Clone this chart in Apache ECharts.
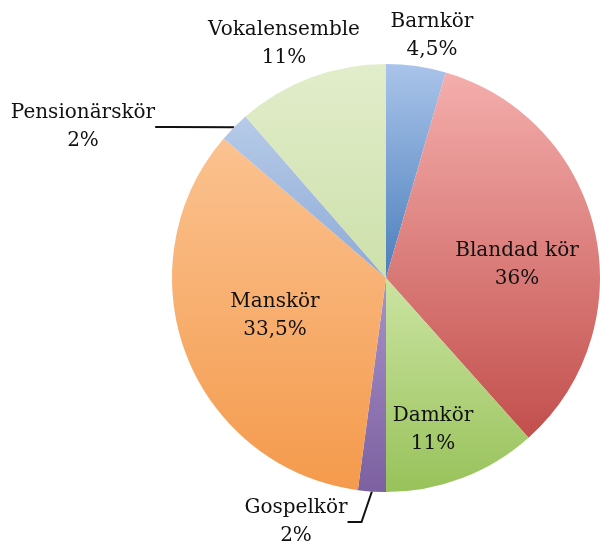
<!DOCTYPE html>
<html>
<head>
<meta charset="utf-8">
<script src="https://cdn.jsdelivr.net/npm/echarts@6/dist/echarts.min.js"></script>
<style>
  html, body { margin: 0; padding: 0; background: #fff; }
  #chart { width: 600px; height: 545px; }
</style>
</head>
<body>
<div id="chart"></div>
<script>
// slices, clockwise from 12 o'clock
var names = ['Barnkör', 'Blandad kör', 'Damkör', 'Gospelkör', 'Manskör', 'Pensionärskör', 'Vokalensemble'];
var values = [4.5, 33.9, 11.6, 2.1, 34.2, 2.3, 11.4];
// percentages as printed on the chart
var percentLabels = ['4,5%', '36%', '11%', '2%', '33,5%', '2%', '11%'];

var topColors = ['#aac4ea', '#f4aeac', '#cbe4a2', '#a893c9', '#fbc290', '#b6cbe8', '#e2edcb'];
var bottomColors = ['#4a7ebb', '#c24f4c', '#98c25a', '#7c60a0', '#f49a4c', '#8eaad6', '#cde0aa'];

// label centres (px) and whether a leader line is drawn
var labelSpots = [
  { x: 432, y: 36, line: false },
  { x: 517, y: 265, line: false },
  { x: 433, y: 430, line: false },
  { x: 296, y: 522, line: true },
  { x: 275, y: 316, line: false },
  { x: 83, y: 127, line: true },
  { x: 284, y: 44, line: false }
];

var data = names.map(function (n, i) {
  return {
    name: n,
    value: values[i],
    itemStyle: {
      color: new echarts.graphic.LinearGradient(0, 0, 0, 1, [
        { offset: 0, color: topColors[i] },
        { offset: 1, color: bottomColors[i] }
      ])
    },
    labelLine: { show: labelSpots[i].line }
  };
});

var myChart = echarts.init(document.getElementById('chart'));
myChart.setOption({
  animation: false,
  series: [
    {
      type: 'pie',
      center: [386, 278],
      radius: 214,
      startAngle: 90,
      clockwise: true,
      avoidLabelOverlap: false,
      label: {
        show: true,
        position: 'outside',
        fontFamily: 'DejaVu Serif',
        fontSize: 20,
        lineHeight: 28,
        color: '#111',
        align: 'center',
        formatter: function (p) {
          return p.name + '\n' + percentLabels[p.dataIndex];
        }
      },
      labelLine: {
        length: 4,
        length2: 14,
        lineStyle: { color: '#111', width: 2 }
      },
      labelLayout: function (p) {
        var s = labelSpots[p.dataIndex];
        return { x: s.x, y: s.y, align: 'center', verticalAlign: 'middle' };
      },
      data: data
    }
  ]
});
</script>
</body>
</html>
